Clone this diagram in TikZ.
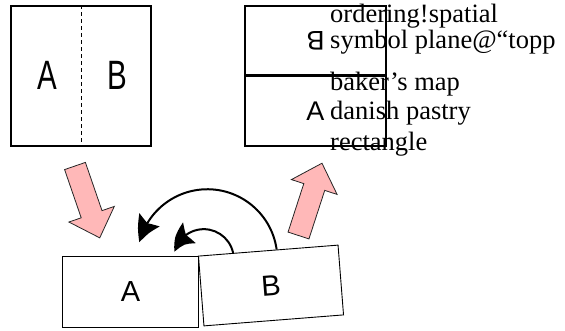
\documentclass[tikz,border=0pt]{standalone}
\usepackage{fontspec}
\setmainfont{Liberation Serif}
\newfontfamily\boxfont{Liberation Sans}
\usetikzlibrary{arrows.meta,bending,calc}

\definecolor{foldpink}{RGB}{255,184,184}

\tikzset{
	pics/fatarrow/.style={code={
		\draw[fill=foldpink,draw=black!85,line width=0.8pt]
		(0,-11) -- (51,-11) -- (51,-24) -- (76,0) -- (51,24) -- (51,11) -- (0,11) -- cycle;
	}}
}

\begin{document}
\begin{tikzpicture}[x=1pt,y=1pt,
				square/.style={
					draw,
					line width=1.1pt,
					inner sep=0pt,
					minimum size=140pt
				},
				half/.style={
					draw,
					line width=1.1pt,
					inner sep=0pt,
					minimum width=141pt,
					minimum height=70pt,
					font=\boxfont\fontsize{27}{27}\selectfont
				},
				slab/.style={
					draw,
					line width=0.9pt,
					inner sep=0pt,
					minimum width=136pt,
					minimum height=71pt,
					font=\boxfont\fontsize{29}{29}\selectfont
				},
				biglabel/.style={font=\boxfont\fontsize{41}{41}\selectfont,inner sep=0pt},
				entry/.style={anchor=base west,inner sep=0pt,font=\fontsize{26.5}{30}\selectfont},
				swap/.style={line width=2pt,-{Stealth[length=25pt,width=24pt,inset=4pt,bend]}}
				]
				\useasboundingbox (0,0) rectangle (565,330);
				% before the fold
				\node[square] (orig) at (81,254) {};
				\draw[line width=0.9pt,dash pattern=on 4pt off 3pt] (orig.north) -- (orig.south);
				\node[biglabel] (origA) at (47,255) {\scalebox{0.72}[1]{A}};
				\node[biglabel] (origB) at (117,255) {\scalebox{0.72}[1]{B}};
				
				% after the fold
				\node[half] (upper) at (315.5,289) {\rotatebox{180}{B}};
				\node[half] (lower) at (315.5,219) {A};
				\draw[line width=2pt] (lower.north west) -- (lower.north east);
				
				\node[entry] (e1) at (330,307) {ordering!spatial};
				\node[entry] (e2) at (330,281) {symbol plane@“topp};
				\node[entry] (e3) at (330,240) {baker’s map};
				\node[entry] (e4) at (330,211) {danish pastry};
				\node[entry] (e5) at (330,179) {rectangle};
				
				% stretched strip, cut and stacked
				\node[slab] (A) at (130.5,38.5) {A};
				\node[slab,minimum width=140pt,minimum height=70pt,rotate=4.5] (B) at (271,44.5) {B};
				
				\draw[swap] ($(B.north west)!0.56!(B.north east)$) arc[start angle=8,end angle=166,radius=70];
				\draw[swap] ($(B.north west)!0.25!(B.north east)$) arc[start angle=12,end angle=166,radius=30];
				
				\pic[rotate=-71] at (75,164) {fatarrow};
				\pic[rotate=72] at (298.5,94.5) {fatarrow};
			\end{tikzpicture}
\end{document}
